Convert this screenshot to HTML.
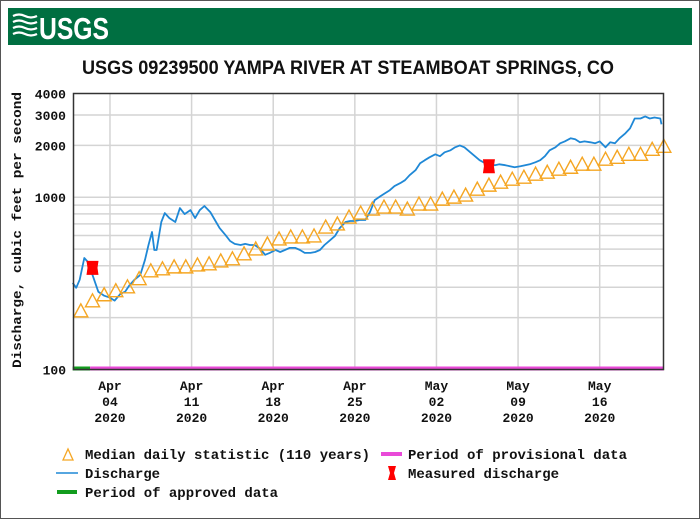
<!DOCTYPE html>
<html><head><meta charset="utf-8"><style>
html,body{margin:0;padding:0;background:#fff;}
svg{display:block;}
.mono{font-family:"Liberation Mono",monospace;font-weight:bold;fill:#111;}
</style></head><body>
<svg id="chart" width="700" height="519" viewBox="0 0 700 519" xmlns="http://www.w3.org/2000/svg">
<rect x="0.5" y="0.5" width="699" height="518" fill="#fff" stroke="#555" stroke-width="1"/>
<g>
<rect x="8" y="8" width="684" height="37" fill="#006f41"/>
<g stroke="#fff" stroke-width="2.2" fill="none">
<path d="M13 16 q6 -3 12 0 t12 0"/><path d="M13 22 q6 -3 12 0 t12 0"/><path d="M13 28 q6 -3 12 0 t12 0"/><path d="M13 34 q6 -3 12 0 t12 0"/>
</g>
<text x="39" y="39" font-family="Liberation Sans,sans-serif" font-weight="bold" font-size="31" fill="#fff" textLength="70" lengthAdjust="spacingAndGlyphs">USGS</text>
</g>
<text x="82" y="74" font-family="Liberation Sans,sans-serif" font-weight="bold" font-size="19" fill="#111" textLength="532" lengthAdjust="spacingAndGlyphs">USGS 09239500 YAMPA RIVER AT STEAMBOAT SPRINGS, CO</text>
<g id="grid"></g>
<g id="ylabels"></g>
<g id="xlabels"></g>
<text class="mono" font-size="13" transform="translate(21,230) rotate(-90)" text-anchor="middle" textLength="276" lengthAdjust="spacingAndGlyphs">Discharge, cubic feet per second</text>
<g id="periods"></g>
<g id="series"></g>
<rect x="73.5" y="93.5" width="590" height="276" fill="none" stroke="#333" stroke-width="1.5"/>
<g>
<g>
<path d="M63 460 L68 449 L73 460 Z" fill="none" stroke="#f5a623" stroke-width="1.3"/>
<text class="mono" x="85" y="459" font-size="14" textLength="285" lengthAdjust="spacingAndGlyphs">Median daily statistic (110 years)</text></g>
<g>
<line x1="56" y1="473" x2="78" y2="473" stroke="#1f88d6" stroke-width="1.5"/>
<text class="mono" x="85" y="478" font-size="14" textLength="75" lengthAdjust="spacingAndGlyphs">Discharge</text></g>
<g>
<line x1="57" y1="492" x2="77" y2="492" stroke="#129c1e" stroke-width="4"/>
<text class="mono" x="85" y="497" font-size="14" textLength="193" lengthAdjust="spacingAndGlyphs">Period of approved data</text></g>
<g>
<line x1="381" y1="454" x2="402" y2="454" stroke="#e94ad8" stroke-width="4"/>
<text class="mono" x="408" y="459" font-size="14" textLength="219" lengthAdjust="spacingAndGlyphs">Period of provisional data</text></g>
<g>
<path d="M388 466 L396 466 L394 473 L396 480 L388 480 L390 473 Z" fill="#f00"/>
<text class="mono" x="408" y="478" font-size="14" textLength="151" lengthAdjust="spacingAndGlyphs">Measured discharge</text></g>
</g>
</svg>
<script>
// Days counted from Apr 01 2020 00:00
const xTickDays = [3,10,17,24,31,38,45];
const xTickMonth = ["Apr","Apr","Apr","Apr","May","May","May"];
const xTickDay = ["04","11","18","25","02","09","16"];
const yTickValues = [100,1000,2000,3000,4000];
const yGridValues = [200,300,400,500,600,700,800,900,1000,2000,3000];
const medianValues = [216,247,268,283,298,332,369,379,389,389,399,405,421,433,463,494,528,565,580,580,588,662,690,757,798,842,865,865,842,900,900,962,988,1015,1099,1160,1207,1256,1290,1343,1378,1435,1473,1534,1534,1640,1683,1751,1751,1872,1948];
const dischargeDays = [-0.2,0.1,0.4,0.8,1.1,1.5,2.0,2.5,3.0,3.4,3.9,4.3,4.7,5.1,5.6,6.0,6.3,6.6,6.8,7.0,7.4,7.7,8.1,8.6,9.0,9.4,9.9,10.3,10.7,11.1,11.6,12.0,12.4,12.9,13.3,13.7,14.2,14.6,15.0,15.4,15.9,16.3,16.7,17.2,17.6,18.0,18.4,18.9,19.3,19.7,20.2,20.6,21.0,21.4,21.9,22.3,22.7,23.2,23.6,24.0,24.4,24.9,25.3,25.7,26.2,26.6,27.0,27.4,27.9,28.3,28.7,29.2,29.6,30.0,30.4,30.9,31.3,31.7,32.2,32.6,33.0,33.4,33.9,34.3,34.7,35.2,35.6,36.0,36.4,36.9,37.3,37.7,38.2,38.6,39.0,39.5,39.9,40.3,40.7,41.2,41.6,42.0,42.5,42.9,43.3,43.7,44.2,44.6,45.0,45.5,45.9,46.3,46.7,47.2,47.6,48.0,48.5,48.9,49.3,49.7,50.2,50.3];
const dischargeValues = [318,298,332,444,421,354,283,268,261,251,275,283,310,332,354,433,528,628,494,494,718,809,757,718,865,798,842,757,842,889,820,738,662,604,557,536,528,536,528,528,501,463,475,494,481,494,508,508,494,475,475,481,494,528,565,596,662,718,728,728,738,738,820,962,1015,1057,1099,1160,1207,1256,1343,1435,1574,1640,1706,1775,1730,1824,1872,1948,2000,1948,1824,1730,1640,1574,1534,1534,1553,1534,1514,1493,1514,1534,1553,1596,1640,1730,1872,1948,2056,2110,2198,2168,2084,2110,2084,2056,2110,1948,2084,2056,2198,2349,2510,2864,2864,2944,2864,2904,2864,2649];
const measuredDays = [1.5,35.5];
const measuredValues = [389,1514];
const approvedRange = [-0.2,1.3];
const provisionalRange = [1.3,50.5];

const NS="http://www.w3.org/2000/svg";
const PX0=73.5, PX1=663.5, PY0=93.5, PY1=369.5;
const dayMin=(PX0-75)/11.66, dayMax=(PX1-75)/11.66;
function xScale(d){return PX0+(d-dayMin)/(dayMax-dayMin)*(PX1-PX0);}
const LMIN=2, LMAX=Math.log10(4000);
function yScale(v){return PY1-(Math.log10(v)-LMIN)/(LMAX-LMIN)*(PY1-PY0);}
function mk(tag,attrs,parent){const e=document.createElementNS(NS,tag);for(const k in attrs)e.setAttribute(k,attrs[k]);parent.appendChild(e);return e;}

const grid=document.getElementById('grid');
yGridValues.forEach(v=>{
  const l=mk('line',{x1:PX0,x2:PX1,y1:yScale(v),y2:yScale(v),stroke:'#d4d4d4','stroke-width':1.5},grid);
  
  
});
xTickDays.forEach(d=>{
  const l=mk('line',{x1:xScale(d),x2:xScale(d),y1:PY0,y2:PY1,stroke:'#d4d4d4','stroke-width':1.5},grid);
  
  
});
const yl=document.getElementById('ylabels');
yTickValues.forEach(v=>{
  const t=mk('text',{x:66,y:yScale(v)+5,'text-anchor':'end','class':'mono','font-size':13},yl);
  t.textContent=String(v);
  
  
});
const xl=document.getElementById('xlabels');
xTickDays.forEach((d,i)=>{
  [xTickMonth[i],xTickDay[i],"2020"].forEach((s,j)=>{
    const t=mk('text',{x:xScale(d),y:390+j*16,'text-anchor':'middle','class':'mono','font-size':13},xl);
    t.textContent=s;
    
    
  });
});
const per=document.getElementById('periods');
const ap=mk('line',{x1:xScale(approvedRange[0]),x2:xScale(approvedRange[1]),y1:PY1-1,y2:PY1-1,stroke:'#129c1e','stroke-width':4},per);


const pp=mk('line',{x1:xScale(provisionalRange[0]),x2:xScale(provisionalRange[1]),y1:PY1-1,y2:PY1-1,stroke:'#e94ad8','stroke-width':4},per);



const ser=document.getElementById('series');
const dpts=dischargeDays.map((d,i)=>xScale(d).toFixed(1)+','+yScale(dischargeValues[i]).toFixed(1)).join(' ');
const dl=mk('polyline',{points:dpts,fill:'none',stroke:'#1f88d6','stroke-width':1.8,'stroke-linejoin':'round'},ser);


medianValues.forEach((v,i)=>{
  const x=xScale(i+0.5), y=yScale(v);
  const p=mk('path',{d:`M${x-7} ${y+5} L${x} ${y-8} L${x+7} ${y+5} Z`,fill:'none',stroke:'#f5a623','stroke-width':1.4},ser);
  
  
});
measuredDays.forEach((d,i)=>{
  const x=xScale(d), y=yScale(measuredValues[i]);
  const p=mk('path',{d:`M${x-6} ${y-7} L${x+6} ${y-7} L${x+5} ${y} L${x+6} ${y+7} L${x-6} ${y+7} L${x-5} ${y} Z`,fill:'#f00'},ser);
  
  
});
</script>
</body></html>
